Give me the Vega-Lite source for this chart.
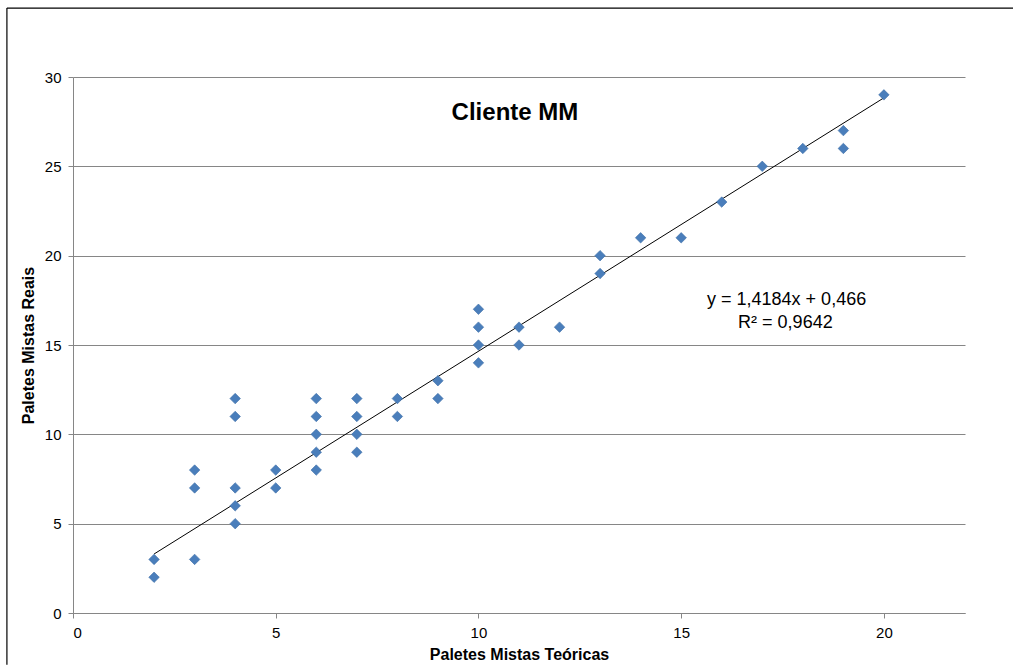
{
  "$schema": "https://vega.github.io/schema/vega-lite/v6.json",
  "width": 892,
  "height": 536,
  "autosize": {"type": "none"},
  "padding": {"left": 73, "top": 77, "right": 48, "bottom": 53},
  "background": "white",
  "config": {
    "font": "Liberation Sans",
    "view": {"stroke": null},
    "axis": {
      "labelFont": "Liberation Sans",
      "titleFont": "Liberation Sans",
      "labelFontSize": 15,
      "labelColor": "#000000",
      "titleFontSize": 16,
      "titleFontWeight": "bold",
      "titleColor": "#000000",
      "domainColor": "#868686",
      "tickColor": "#868686",
      "gridColor": "#868686",
      "tickSize": 5,
      "labelPadding": 7
    }
  },
  "datasets": {
    "points": [
      {"teoricas": 2, "reais": 3}, {"teoricas": 2, "reais": 2},
      {"teoricas": 3, "reais": 8}, {"teoricas": 3, "reais": 7}, {"teoricas": 3, "reais": 3},
      {"teoricas": 4, "reais": 12}, {"teoricas": 4, "reais": 11}, {"teoricas": 4, "reais": 7}, {"teoricas": 4, "reais": 6}, {"teoricas": 4, "reais": 5},
      {"teoricas": 5, "reais": 8}, {"teoricas": 5, "reais": 7},
      {"teoricas": 6, "reais": 12}, {"teoricas": 6, "reais": 11}, {"teoricas": 6, "reais": 10}, {"teoricas": 6, "reais": 9}, {"teoricas": 6, "reais": 8},
      {"teoricas": 7, "reais": 12}, {"teoricas": 7, "reais": 11}, {"teoricas": 7, "reais": 10}, {"teoricas": 7, "reais": 9},
      {"teoricas": 8, "reais": 12}, {"teoricas": 8, "reais": 11},
      {"teoricas": 9, "reais": 13}, {"teoricas": 9, "reais": 12},
      {"teoricas": 10, "reais": 17}, {"teoricas": 10, "reais": 16}, {"teoricas": 10, "reais": 15}, {"teoricas": 10, "reais": 14},
      {"teoricas": 11, "reais": 16}, {"teoricas": 11, "reais": 15},
      {"teoricas": 12, "reais": 16},
      {"teoricas": 13, "reais": 20}, {"teoricas": 13, "reais": 19},
      {"teoricas": 14, "reais": 21},
      {"teoricas": 15, "reais": 21},
      {"teoricas": 16, "reais": 23},
      {"teoricas": 17, "reais": 25},
      {"teoricas": 18, "reais": 26},
      {"teoricas": 19, "reais": 27}, {"teoricas": 19, "reais": 26},
      {"teoricas": 20, "reais": 29}
    ],
    "trend": [
      {"teoricas": 2, "reais": 3.303},
      {"teoricas": 20, "reais": 28.834}
    ],
    "frameTop": [
      {"fx": -1.63, "fy": 33.86},
      {"fx": 23.2, "fy": 33.86}
    ],
    "frameLeft": [
      {"fx": -1.63, "fy": 33.86},
      {"fx": -1.63, "fy": -2.9}
    ]
  },
  "layer": [
    {
      "data": {"name": "frameTop"},
      "mark": {"type": "line", "color": "#000000", "strokeWidth": 1.2, "clip": false},
      "encoding": {
        "x": {"field": "fx", "type": "quantitative"},
        "y": {"field": "fy", "type": "quantitative"}
      }
    },
    {
      "data": {"name": "frameLeft"},
      "mark": {"type": "line", "color": "#000000", "strokeWidth": 1.2, "clip": false},
      "encoding": {
        "x": {"field": "fx", "type": "quantitative"},
        "y": {"field": "fy", "type": "quantitative"},
        "order": {"field": "fy", "type": "quantitative"}
      }
    },
    {
      "data": {"name": "trend"},
      "mark": {"type": "line", "color": "#000000", "strokeWidth": 1},
      "encoding": {
        "x": {"field": "teoricas", "type": "quantitative"},
        "y": {"field": "reais", "type": "quantitative"}
      }
    },
    {
      "data": {"name": "points"},
      "mark": {"type": "point", "shape": "diamond", "filled": true, "size": 110, "fill": "#4A7EBB", "stroke": "#3D6DA6", "strokeWidth": 0.6, "opacity": 1},
      "encoding": {
        "x": {
          "field": "teoricas", "type": "quantitative",
          "scale": {"domain": [0, 22], "nice": false, "zero": true},
          "axis": {"values": [0, 5, 10, 15, 20], "grid": false, "title": "Paletes Mistas Teóricas", "titlePadding": 6}
        },
        "y": {
          "field": "reais", "type": "quantitative",
          "scale": {"domain": [0, 30], "nice": false},
          "axis": {"values": [0, 5, 10, 15, 20, 25, 30], "grid": true, "title": "Paletes Mistas Reais", "titlePadding": 8}
        }
      }
    },
    {
      "data": {"values": [{"t": "Cliente MM"}]},
      "mark": {"type": "text", "fontSize": 24, "fontWeight": "bold", "align": "center", "baseline": "middle", "color": "#000000"},
      "encoding": {
        "x": {"datum": 10.9, "type": "quantitative"},
        "y": {"datum": 27.98, "type": "quantitative"},
        "text": {"field": "t"}
      }
    },
    {
      "data": {"values": [{"t": "y = 1,4184x + 0,466"}]},
      "mark": {"type": "text", "fontSize": 18, "align": "center", "baseline": "middle", "color": "#000000"},
      "encoding": {
        "x": {"datum": 17.6, "type": "quantitative"},
        "y": {"datum": 17.52, "type": "quantitative"},
        "text": {"field": "t"}
      }
    },
    {
      "data": {"values": [{"t": "R² = 0,9642"}]},
      "mark": {"type": "text", "fontSize": 18, "align": "center", "baseline": "middle", "color": "#000000"},
      "encoding": {
        "x": {"datum": 17.57, "type": "quantitative"},
        "y": {"datum": 16.23, "type": "quantitative"},
        "text": {"field": "t"}
      }
    }
  ]
}
